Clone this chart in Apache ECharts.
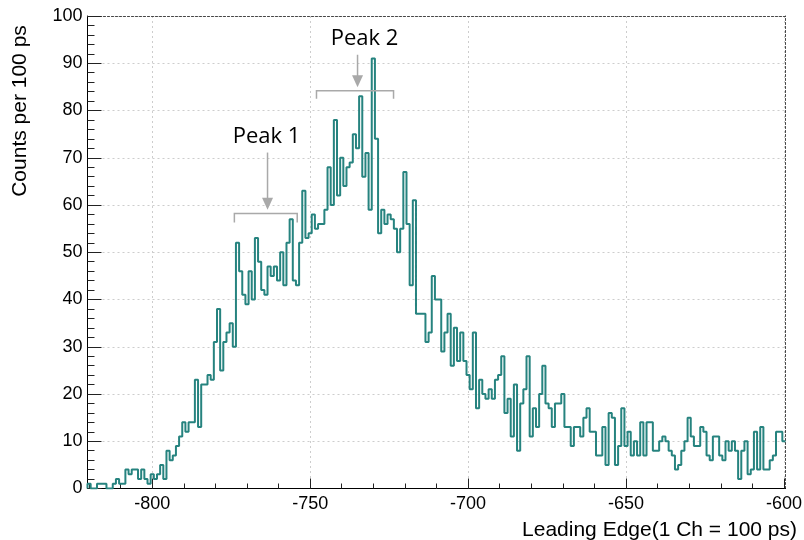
<!DOCTYPE html>
<html>
<head>
<meta charset="utf-8">
<script src="https://cdn.jsdelivr.net/npm/echarts@6/dist/echarts.min.js"></script>
<style>html,body{margin:0;padding:0;background:#fff}#chart{width:804px;height:540px}</style>
</head>
<body>
<div id="chart"></div>
<script>
// ---- data ----
const firstBinCenter = -820;   // channel of first bin
const binWidth = 1;            // 1 channel per bin
const counts = [
  1,0,0,1,1,1,0,0,1,2,        // -820 .. -811
  1,1,4,3,4,4,2,4,2,1,        // -810 .. -801
  3,2,3,5,2,8,6,7,9,11,       // -800 .. -791
  14,12,14,14,23,13,22,22,24,23, // -790 .. -781
  31,38,25,31,33,35,30,52,46,41, // -780 .. -771
  39,46,40,53,48,42,41,47,45,47, // -770 .. -761
  44,50,43,52,57,44,43,52,63,53, // -760 .. -751
  54,58,55,56,56,59,68,60,78,62, // -750 .. -741
  70,64,68,69,75,72,83,66,71,59, // -740 .. -731
  91,74,54,59,56,58,57,55,50,55, // -730 .. -721
  67,56,43,61,37,37,37,31,33,45, // -720 .. -711
  40,40,29,33,37,26,34,27,33,27, // -710 .. -701
  24,21,33,17,23,20,19,21,19,23, // -700 .. -691
  24,28,16,19,11,22,8,18,21,28,  // -690 .. -681
  11,17,13,20,26,18,17,13,18,18, // -680 .. -671
  20,13,13,9,13,13,11,15,17,12,  // -670 .. -661
  12,7,7,13,5,16,15,5,9,17,      // -660 .. -651
  9,12,7,10,7,14,7,14,14,8,      // -650 .. -641
  8,10,11,10,8,7,4,5,8,10,       // -640 .. -631
  15,11,9,9,13,12,7,6,11,11,     // -630 .. -621
  7,6,10,8,10,8,2,8,10,3,        // -620 .. -611
  4,12,4,13,4,4,6,7,12,12,       // -610 .. -601
  10                             // -600
];
const xMajorTicks = [-800, -750, -700, -650, -600];
const xMinorTicks = [-820,-810,-800,-790,-780,-770,-760,-750,-740,-730,-720,-710,-700,-690,-680,-670,-660,-650,-640,-630,-620,-610,-600];
const yMin = 0, yMax = 100, yStep = 10;
const xTitle = 'Leading Edge(1 Ch = 100 ps)';
const yTitle = 'Counts per 100 ps';
const peakNames = ['Peak 1', 'Peak 2'];
const peakRanges = [[-774, -754.1], [-748, -723.6]];   // bracket extents (channels)
const peakBracketLevel = [58.2, 84.2];                // bracket height (counts)
const peakBracketFoot = [56.3, 82.5];
const peakArrowX = [-763.5, -735];
const peakArrowFrom = [71.1, 91.8];
const peakArrowTo = [59.0, 84.9];
const peakTextX = [-763.8, -732.8];
const peakTextY = [74.5, 95.2];

// ---- build ----
const xMin = firstBinCenter - binWidth / 2;
const xMax = firstBinCenter + (counts.length - 0.5) * binWidth;
const stepData = [[xMin, 0]];
counts.forEach((c, i) => stepData.push([firstBinCenter + i * binWidth - binWidth / 2, c]));
stepData.push([xMax, counts[counts.length - 1]]);

const chart = echarts.init(document.getElementById('chart'), null, {renderer: 'canvas'});
const labelFont = 'Liberation Sans';
const option = {
  animation: false,
  backgroundColor: '#fff',
  grid: {left: 87.5, right: 18.5, top: 16, bottom: 51.5, containLabel: false, outerBoundsMode: 'none'},
  xAxis: [
    {
      type: 'value', min: xMin, max: xMax, position: 'bottom',
      axisLine: {show: true, onZero: false, lineStyle: {color: '#000', width: 1}},
      axisTick: {show: true, inside: true, length: 10, customValues: xMajorTicks, lineStyle: {color: '#222', width: 1}},
      axisLabel: {show: true, customValues: xMajorTicks, fontFamily: labelFont, fontSize: 18, color: '#000', margin: 7},
      splitLine: {show: true, lineStyle: {color: '#cdcdcd', width: 1, type: [2, 3]}}
    },
    {
      type: 'value', min: xMin, max: xMax, position: 'bottom',
      axisLine: {show: false, onZero: false},
      axisTick: {show: true, inside: true, length: 5, customValues: xMinorTicks, lineStyle: {color: '#222', width: 1}},
      axisLabel: {show: false},
      splitLine: {show: false}
    },
    {
      type: 'value', min: xMin, max: xMax, position: 'top',
      axisLine: {show: true, onZero: false, lineStyle: {color: '#444', width: 1, type: [2, 2]}},
      axisTick: {show: false}, axisLabel: {show: false}, splitLine: {show: false}
    }
  ],
  yAxis: [
    {
      type: 'value', min: yMin, max: yMax, interval: yStep, position: 'left',
      axisLine: {show: true, onZero: false, lineStyle: {color: '#000', width: 1}},
      axisTick: {show: true, inside: true, length: 14, lineStyle: {color: '#222', width: 1}},
      minorTick: {show: true, splitNumber: 5, length: 7, lineStyle: {color: '#222', width: 1}},
      axisLabel: {fontFamily: labelFont, fontSize: 18, color: '#000', margin: 5},
      splitLine: {show: true, lineStyle: {color: '#cdcdcd', width: 1, type: [2, 3]}}
    },
    {
      type: 'value', min: yMin, max: yMax, position: 'right',
      axisLine: {show: true, onZero: false, lineStyle: {color: '#444', width: 1, type: [2, 2]}},
      axisTick: {show: false}, axisLabel: {show: false}, splitLine: {show: false}
    }
  ],
  series: [{
    type: 'line', step: 'end', data: stepData, xAxisIndex: 0, yAxisIndex: 0,
    showSymbol: false, symbol: 'none', z: 3,
    lineStyle: {color: '#26837f', width: 2}
  }]
};
chart.setOption(option);

// ---- annotations (positioned through the axes' scales) ----
function px(x, y) { return chart.convertToPixel({xAxisIndex: 0, yAxisIndex: 0}, [x, y]); }
const annColor = '#a9a9a9';
const graphics = [];
peakNames.forEach((name, i) => {
  const a = px(peakRanges[i][0], peakBracketFoot[i]);
  const b = px(peakRanges[i][0], peakBracketLevel[i]);
  const c = px(peakRanges[i][1], peakBracketLevel[i]);
  const d = px(peakRanges[i][1], peakBracketFoot[i]);
  graphics.push({type: 'polyline', shape: {points: [a, b, c, d]}, style: {stroke: annColor, lineWidth: 1.5, fill: null}, z: 10});
  const top = px(peakArrowX[i], peakArrowFrom[i]);
  const tip = px(peakArrowX[i], peakArrowTo[i]);
  const headLen = 12, headHalf = 5.5;
  graphics.push({type: 'line', shape: {x1: top[0], y1: top[1], x2: tip[0], y2: tip[1] - headLen + 1}, style: {stroke: annColor, lineWidth: 1.5}, z: 10});
  graphics.push({type: 'polygon', shape: {points: [[tip[0], tip[1]], [tip[0] - headHalf, tip[1] - headLen], [tip[0] + headHalf, tip[1] - headLen]]}, style: {fill: annColor}, z: 10});
  const t = px(peakTextX[i], peakTextY[i]);
  graphics.push({type: 'text', x: t[0], y: t[1], style: {text: name, font: '22px "Open Sans"', fill: '#000', align: 'center', verticalAlign: 'middle'}, z: 10});
});
graphics.push({type: 'text', x: 797, y: 530, style: {text: xTitle, font: '21px "Liberation Sans"', fill: '#000', align: 'right', verticalAlign: 'middle'}});
graphics.push({type: 'text', x: 20, y: 111, rotation: Math.PI / 2, style: {text: yTitle, font: '21px "Liberation Sans"', fill: '#000', align: 'center', verticalAlign: 'middle'}});
chart.setOption({graphic: graphics});
</script>
</body>
</html>
